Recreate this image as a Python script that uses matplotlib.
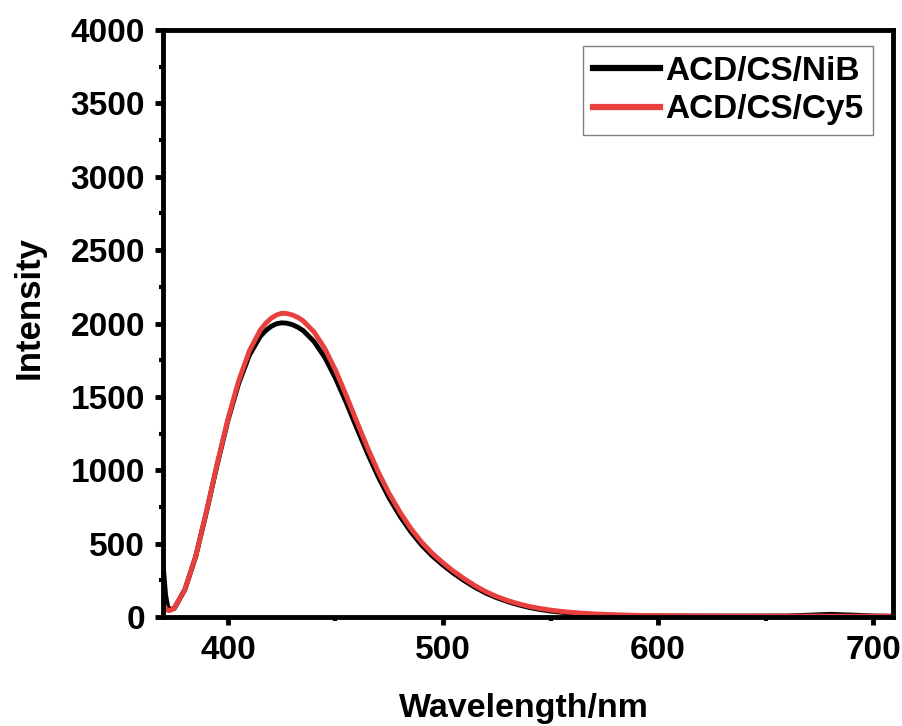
import matplotlib
matplotlib.use("Agg")
from matplotlib import pyplot as plt
from matplotlib.ticker import MultipleLocator

plt.rcParams['font.family'] = ['Liberation Sans', 'DejaVu Sans']
plt.rcParams['font.weight'] = 'bold'

# Wavelength (nm) and emission intensity
wl_nib = [370, 371, 372, 373, 375, 380, 385, 390, 395, 400, 405, 410, 415,
          417.5, 420, 422.5, 425, 427.5, 430, 432.5, 435, 440, 445, 450, 455,
          460, 465, 470, 475, 480, 485, 490, 495, 500, 505, 510, 515, 520,
          525, 530, 535, 540, 545, 550, 555, 560, 570, 580, 590, 600, 620,
          640, 660, 670, 680, 690, 700, 709]
int_nib = [330, 150, 70, 52, 58, 188, 412, 715, 1038, 1340, 1592, 1785,
           1912, 1951, 1980, 1998, 2005, 2002, 1992, 1975, 1952, 1878, 1770,
           1628, 1462, 1285, 1112, 952, 810, 688, 582, 492, 417, 354, 297,
           247, 202, 163, 132, 106, 84, 66, 52, 41, 33, 26, 17, 12, 9, 8, 7,
           7, 8, 13, 19, 14, 8, 6]

wl_cy5 = [370, 371, 372, 373, 375, 380, 385, 390, 395, 400, 405, 410, 415,
          417.5, 420, 422.5, 425, 427.5, 430, 432.5, 435, 440, 445, 450, 455,
          460, 465, 470, 475, 480, 485, 490, 495, 500, 505, 510, 515, 520,
          525, 530, 535, 540, 545, 550, 555, 560, 570, 580, 590, 600, 620,
          640, 660, 680, 700, 709]
int_cy5 = [90, 62, 46, 45, 60, 190, 415, 720, 1045, 1350, 1610, 1815, 1955,
           2000, 2035, 2058, 2070, 2068, 2058, 2042, 2018, 1943, 1831, 1683,
           1511, 1329, 1151, 986, 841, 715, 605, 512, 435, 370, 312, 260, 213,
           173, 140, 113, 91, 73, 59, 48, 39, 32, 22, 16, 12, 10, 8, 7, 7, 7,
           6, 6]

fig = plt.figure(figsize=(9.03, 7.26), dpi=100)
ax = fig.add_axes([0.1805, 0.150, 0.8085, 0.8087])

ax.plot(wl_nib, int_nib, color='black', lw=3.5, label='ACD/CS/NiB',
        solid_joinstyle='round')
ax.plot(wl_cy5, int_cy5, color='#E83F3F', lw=3.5, label='ACD/CS/Cy5',
        solid_joinstyle='round')

ax.set_xlim(369.8, 709.3)
ax.set_ylim(0, 4000)
ax.xaxis.set_major_locator(MultipleLocator(100))
ax.xaxis.set_minor_locator(MultipleLocator(50))
ax.yaxis.set_major_locator(MultipleLocator(500))
ax.yaxis.set_minor_locator(MultipleLocator(250))

for s in ax.spines.values():
    s.set_linewidth(3.5)
ax.tick_params(which='major', direction='out', length=6, width=3.5,
               labelsize=24, pad=7)
ax.tick_params(which='minor', direction='out', length=3, width=3)

ax.set_xlabel('Wavelength/nm', fontsize=24.5, fontweight='bold', labelpad=19)
ax.set_ylabel('Intensity', fontsize=25, fontweight='bold', labelpad=18)
ax.xaxis.label.set_x(0.494)
ax.yaxis.label.set_y(0.528)

leg = ax.legend(loc='upper right', bbox_to_anchor=(0.9726, 0.9727),
                borderaxespad=0, fontsize=24, handlelength=2.0,
                frameon=True, fancybox=False, handletextpad=0.15,
                borderpad=0.3, labelspacing=0.22)
leg.get_frame().set_edgecolor('#606060')
leg.get_frame().set_linewidth(1)
for line in leg.get_lines():
    line.set_linewidth(4.5)

fig.savefig('out.png', dpi=100)
